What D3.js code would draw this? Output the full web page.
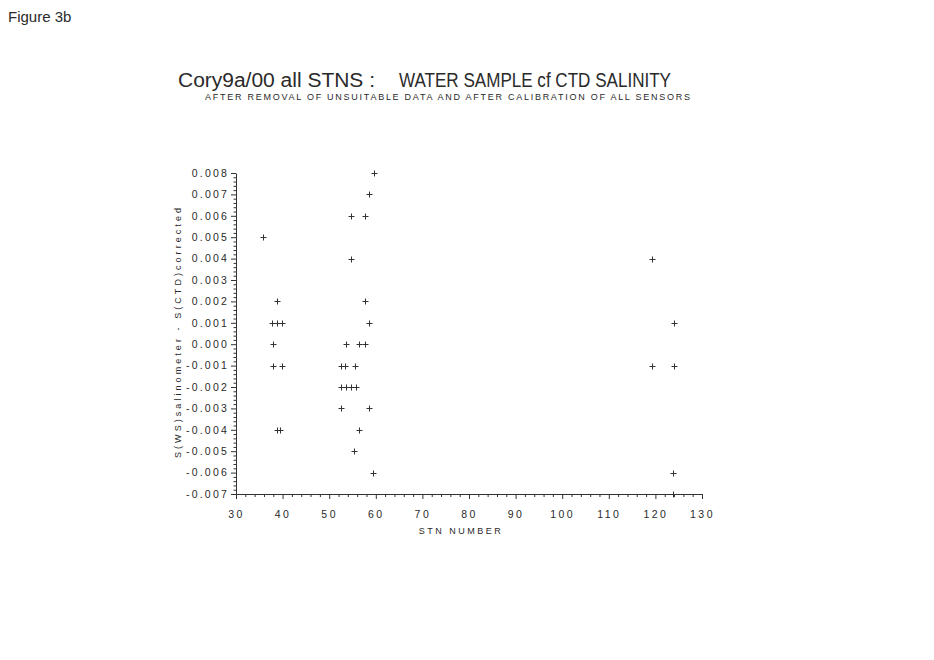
<!DOCTYPE html>
<html><head><meta charset="utf-8">
<script src="https://cdn.jsdelivr.net/npm/d3@7"></script>
<style>
body{margin:0;background:#fff;}
svg text{font-family:"Liberation Sans",Arial,sans-serif;fill:#2a2a2a;}
</style></head>
<body><svg id="c" width="934" height="660"></svg>
<script>
// ---- data ----
const stn  = [35.9,38.9,37.7,38.7,39.8,37.9,37.9,39.9,38.7,39.5,
              59.7,58.6,54.6,57.7,54.6,57.7,58.6,53.5,56.5,57.6,
              52.5,53.4,55.6,52.5,53.5,54.7,55.7,52.5,58.6,56.5,55.4,59.4,
              119.3,123.9,119.2,123.9,123.8,123.8];
const diff = [0.005,0.002,0.001,0.001,0.001,0.000,-0.001,-0.001,-0.004,-0.004,
              0.008,0.007,0.006,0.006,0.004,0.002,0.001,0.000,0.000,0.000,
              -0.001,-0.001,-0.001,-0.002,-0.002,-0.002,-0.002,-0.003,-0.003,-0.004,-0.005,-0.006,
              0.004,0.001,-0.001,-0.001,-0.006,-0.007];
const xTicks = [30,40,50,60,70,80,90,100,110,120,130];
const yTicks = [0.008,0.007,0.006,0.005,0.004,0.003,0.002,0.001,0.000,-0.001,-0.002,-0.003,-0.004,-0.005,-0.006,-0.007];
const yTickLabels = ["0.008","0.007","0.006","0.005","0.004","0.003","0.002","0.001","0.000","-0.001","-0.002","-0.003","-0.004","-0.005","-0.006","-0.007"];
const figLabel = "Figure 3b";
const title1 = "Cory9a/00 all STNS :";
const title2 = "WATER SAMPLE cf CTD SALINITY";
const subtitle = "AFTER REMOVAL OF UNSUITABLE DATA AND AFTER CALIBRATION OF ALL SENSORS";
const xTitle = "STN NUMBER";
const yTitle = "S(WS)salinometer - S(CTD)corrected";

// ---- drawing ----
const svg = d3.select("#c");
const x = d3.scaleLinear().domain([30,130]).range([236,702]);
const y = d3.scaleLinear().domain([-0.007,0.008]).range([494,173]);
const ink = "#333";

svg.append("text").attr("x",8).attr("y",22).attr("font-size",15).text(figLabel);
svg.append("text").attr("x",178).attr("y",87).attr("font-size",20)
   .attr("textLength",197).attr("lengthAdjust","spacingAndGlyphs").text(title1);
svg.append("text").attr("x",399).attr("y",87).attr("font-size",20)
   .attr("textLength",272).attr("lengthAdjust","spacingAndGlyphs").text(title2);
svg.append("text").attr("x",205).attr("y",100).attr("font-size",9)
   .attr("textLength",485).attr("lengthAdjust","spacing").text(subtitle);

// minor ticks
const xMinor = d3.range(30,130.01,2).filter(v=>v%10!==0);
const yMinor = d3.range(-7,8.01,0.2).map(v=>Math.round(v*10)/10).filter(v=>Math.abs(v-Math.round(v))>1e-6).map(v=>v/1000);

const gx = svg.append("g").attr("transform","translate(0,494)")
  .call(d3.axisBottom(x).tickValues(xTicks).tickSize(5).tickSizeOuter(0).tickFormat(d=>String(d)));
gx.selectAll("text").attr("font-size",10.5).attr("dy","1.5em").attr("letter-spacing","2.5px").attr("fill","#2a2a2a")
  .style("font-family","Liberation Sans, Arial, sans-serif");
const gxm = svg.append("g").attr("transform","translate(0,494)")
  .call(d3.axisBottom(x).tickValues(xMinor).tickSize(3).tickSizeOuter(0).tickFormat(""));
gxm.select(".domain").remove();

const gy = svg.append("g").attr("transform","translate(236,0)")
  .call(d3.axisLeft(y).tickValues(yTicks).tickSize(5).tickSizeOuter(0).tickFormat((d,i)=>yTickLabels[i]));
gy.selectAll("text").attr("font-size",10.5).attr("x",-7).attr("letter-spacing","2.2px").attr("fill","#2a2a2a")
  .style("font-family","Liberation Sans, Arial, sans-serif");
const gym = svg.append("g").attr("transform","translate(236,0)")
  .call(d3.axisLeft(y).tickValues(yMinor).tickSize(2.5).tickSizeOuter(0).tickFormat(""));
gym.select(".domain").remove();

svg.selectAll(".domain, .tick line").attr("stroke",ink).attr("stroke-width",1);

svg.append("text").attr("x",x(80)-8).attr("y",534).attr("font-size",9).attr("text-anchor","middle")
   .attr("letter-spacing","2.5px").text(xTitle);
svg.append("text").attr("transform",`translate(181,${(208+458)/2}) rotate(-90)`)
   .attr("font-size",9).attr("text-anchor","middle")
   .attr("textLength",250).attr("lengthAdjust","spacing").text(yTitle);

// plus markers
const pts = stn.map((s,i)=>({s, d:diff[i]}));
const g = svg.append("g").attr("stroke",ink).attr("stroke-width",1);
g.selectAll("path").data(pts).join("path")
  .attr("d",p=>{const cx=Math.round(x(p.s))+0.5, cy=Math.round(y(p.d))+0.5;
     return `M${cx-3},${cy}H${cx+3}M${cx},${cy-3}V${cy+3}`;});
</script></body></html>
